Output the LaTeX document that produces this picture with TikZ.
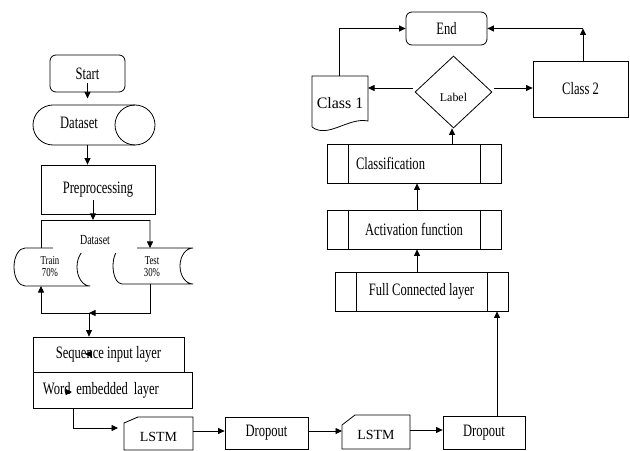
\documentclass[tikz,border=0pt]{standalone}
\usepackage{fontspec}
\setmainfont[FakeStretch=0.72]{Liberation Serif}
\newfontfamily\widef{Liberation Serif}
\usetikzlibrary{arrows.meta,shapes.geometric}
\begin{document}
\begin{tikzpicture}[x=1bp,y=-1bp,
  ln/.style={line width=0.8bp},
  bx/.style={draw, ln, rectangle, inner sep=0pt, font=\fontsize{17.5}{19}\selectfont},
  sh/.style={inner sep=0pt, outer sep=0pt},
  txt/.style={inner sep=0pt, font=\fontsize{17.5}{19}\selectfont},
  sm/.style={inner sep=0pt, font=\fontsize{12.2}{12}\selectfont, align=center},
  proc/.style={bx, path picture={\draw[ln] ([xshift=21bp]path picture bounding box.north west) -- ([xshift=21bp]path picture bounding box.south west) ([xshift=-21bp]path picture bounding box.north east) -- ([xshift=-21bp]path picture bounding box.south east);}},
  arr/.style={ln, -{Triangle[length=6.5bp,width=6bp]}},
]
\useasboundingbox (0,0) rectangle (630,451);
\fill[white] (0,0) rectangle (630,451);

% ---------- left column ----------
\node[bx, rounded corners=6bp, minimum width=75bp, minimum height=37bp] (start) at (87.5,73.5) {Start};

\node[sh, minimum width=122bp, minimum height=40bp] (ds) at (94,125) {};
\draw[ln] (135,105) -- (53,105) arc[start angle=270, end angle=90, x radius=20, y radius=20] -- (135,145);
\draw[ln] (135,125) circle[radius=20];
\node[txt] (dstxt) at (79,123) {Dataset};

\node[bx, minimum width=114bp, minimum height=49bp] (pre) at (98,189.5) {Preprocessing};

\draw[arr] ([yshift=9bp]start.south) -- ([yshift=-6bp]start.south);
\draw[arr] (ds.south -| start.south) -- (start.south |- pre.north);

% split into train / test
\node[sh, minimum width=76bp, minimum height=38bp] (trn) at (52,267) {};
\node[sh, minimum width=80bp, minimum height=36bp] (tst) at (153,266) {};
\draw[ln] (25,248) -- (90,248) arc[start angle=270, end angle=90, x radius=13, y radius=19] -- (25,286) arc[start angle=90, end angle=270, x radius=11, y radius=19];
\draw[ln] (122,248) -- (193,248) arc[start angle=270, end angle=90, x radius=13, y radius=18] -- (122,284) arc[start angle=90, end angle=270, x radius=9, y radius=18];
\node[sm] (trntxt) at (50,266.5) {Train\\70\%};
\node[sm] (tsttxt) at (152,266.5) {Test\\30\%};

\coordinate (spl) at (150,220);
\draw[ln] ([xshift=-11bp]trn.north) |- (spl);
\draw[arr] (spl) -- ([xshift=-3bp]tst.north);
\draw[arr] ([xshift=-5bp,yshift=14bp]pre.south) -- ([xshift=-5bp]pre.south |- spl);
\node[fill=white, inner sep=0pt, minimum width=84bp, minimum height=25bp, font=\fontsize{13.9}{14}\selectfont] (dslbl) at (95,240.5) {Dataset};

\node[bx, minimum width=151bp, minimum height=35bp] (seq) at (108.5,354.5) {Sequence input layer};
\node[bx, minimum width=159bp, minimum height=36bp, text width=139bp, align=left] (word) at (112.5,390) {Word embedded layer};

\coordinate (j) at (89,313);
\draw[arr] ([xshift=-3bp]tst.south) |- (j);
\draw[arr] (j) -| ([xshift=-11bp]trn.south);
\draw[arr] (j) -- (j |- seq.north);

% stray arrow tips
\coordinate (s1) at (91.5,354);
\coordinate (s2) at (85,354);
\coordinate (w1) at (65.5,392);
\coordinate (w2) at (72,392);
\draw[arr] (s1) -- (s2);
\draw[arr] (w1) -- (w2);

% ---------- bottom row ----------
\node[sh, minimum width=69bp, minimum height=33bp] (l1) at (158.5,433.5) {};
\draw[ln] ([yshift=-6bp]l1.north west) -- ([xshift=14bp]l1.north west) -- (l1.north east) -- (l1.south east) -- (l1.south west) -- cycle;
\node[inner sep=0pt, font=\widef\fontsize{14}{15}\selectfont] (l1t) at (158.5,437) {LSTM};

\node[bx, minimum width=83bp, minimum height=32bp] (d1) at (266.5,433) {Dropout};

\node[sh, minimum width=68bp, minimum height=34bp] (l2) at (376,432) {};
\draw[ln] ([yshift=-10bp]l2.north west) -- ([xshift=13bp]l2.north west) -- (l2.north east) -- (l2.south east) -- (l2.south west) -- cycle;
\node[inner sep=0pt, font=\widef\fontsize{14}{15}\selectfont] (l2t) at (376,435) {LSTM};

\node[bx, minimum width=82bp, minimum height=33bp] (d2) at (484,432.5) {Dropout};

\draw[arr] ([xshift=-39.5bp]word.south) |- ([xshift=-6bp,yshift=5.5bp]l1.west);
\draw[arr] ([yshift=2.5bp]l1.east) -- ([yshift=2.5bp]l1.east -| d1.west);
\draw[arr] ([yshift=2bp]d1.east) -- ([yshift=2bp]d1.east -| l2.west);
\draw[arr] ([yshift=2bp]l2.east) -- ([yshift=2bp]l2.east -| d2.west);

% ---------- right column ----------
\node[proc, minimum width=173bp, minimum height=39bp] (fc) at (421.5,291.5) {Full Connected layer};
\node[proc, minimum width=174bp, minimum height=39bp] (act) at (414,229.5) {Activation function};
\node[proc, minimum width=174bp, minimum height=39bp, text width=116bp, align=left] (cls) at (414,163.5) {Classification};

\draw[arr] ([xshift=13bp]d2.north) -- ([xshift=13bp]d2.north |- fc.south);
\draw[arr] ([xshift=3bp]act.south |- fc.north) -- ([xshift=3bp]act.south);
\draw[arr] ([xshift=3bp]act.north) -- ([xshift=3bp]act.north |- cls.south);

\node[draw, ln, diamond, minimum width=77bp, minimum height=72bp, inner sep=0pt] (lab) at (453.5,92) {};
\node[inner sep=0pt, font=\widef\fontsize{12}{13}\selectfont] (labt) at (453.5,97.5) {Label};
\draw[arr] ([xshift=38bp]cls.north) -- ([xshift=38bp]cls.north |- lab.south);

\node[bx, rounded corners=6bp, minimum width=81bp, minimum height=33bp] (end) at (446.5,28.5) {End};

\node[sh, minimum width=56bp, minimum height=51bp] (c1) at (340,101.5) {};
\draw[ln] (c1.south west) -- (c1.north west) -- (c1.north east) -- ([yshift=6bp]c1.south east) .. controls ([xshift=-20bp,yshift=10bp]c1.south east) and ([xshift=16bp,yshift=-12bp]c1.south west) .. (c1.south west);
\node[inner sep=0pt, font=\widef\fontsize{16}{17}\selectfont] (c1t) at (340,103) {Class 1};

\node[bx, minimum width=95bp, minimum height=56bp] (c2) at (580.5,89) {Class 2};

\draw[arr] ([xshift=-2bp,yshift=4bp]lab.west) -- ([yshift=4bp]lab.west -| c1.east);
\draw[arr] ([xshift=2bp,yshift=4bp]lab.east) -- ([yshift=4bp]lab.east -| c2.west);
\draw[arr] ([xshift=-1bp]c1.north) |- (end.west);
\draw[arr] ([xshift=2.5bp]c2.north) -- ([xshift=2.5bp]c2.north |- end.east);
\draw[arr] ([xshift=2.5bp]c2.north |- end.east) -- (end.east);
\end{tikzpicture}
\end{document}
